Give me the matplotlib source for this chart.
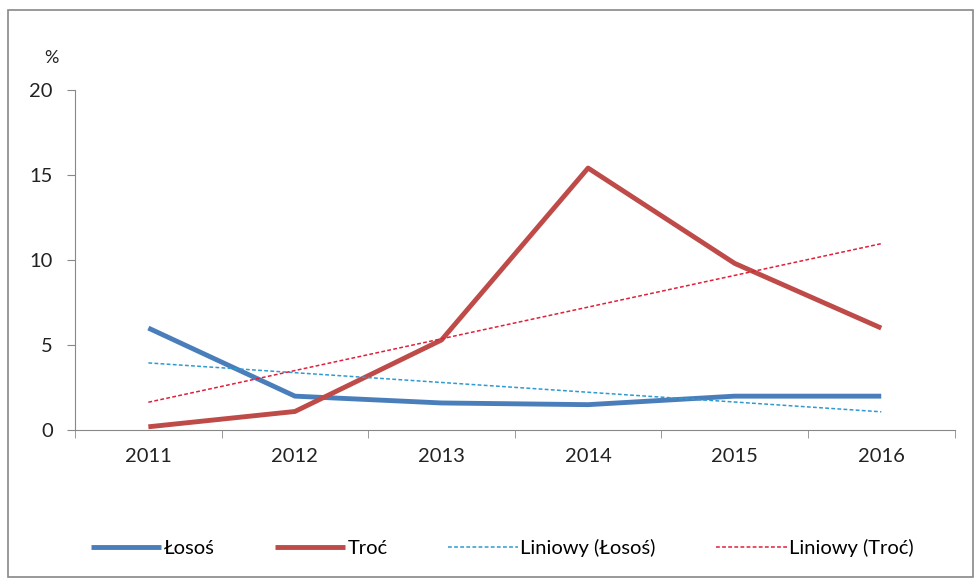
import matplotlib
matplotlib.use('Agg')
import matplotlib.pyplot as plt
import numpy as np
from matplotlib.patches import Rectangle

# data
years = ['2011', '2012', '2013', '2014', '2015', '2016']
losos = [6.0, 2.0, 1.6, 1.5, 2.0, 2.0]
troc = [0.2, 1.1, 5.3, 15.4, 9.8, 6.0]

plt.rcParams['font.family'] = ['Lato', 'DejaVu Sans']

fig = plt.figure(figsize=(9.75, 5.79), dpi=100)
ax = fig.add_axes([0.077, 0.257, 0.902, 0.588])

x = np.arange(len(years))
blue = '#4a7ebb'
red = '#be4b48'
ax.plot(x, losos, color=blue, lw=3.5, solid_capstyle='butt', label='Łosoś')
ax.plot(x, troc, color=red, lw=3.5, solid_capstyle='butt', label='Troć')

# linear trendlines (Excel "Liniowy")
for vals, c, name in [(losos, '#2e9ad0', 'Liniowy (Łosoś)'), (troc, '#e0203a', 'Liniowy (Troć)')]:
    k, b = np.polyfit(x, vals, 1)
    ax.plot(x, k * x + b, color=c, lw=1.1, ls=(0, (2.5, 1.5)), label=name)

ax.set_xlim(-0.5, len(years) - 0.5)
ax.set_ylim(0, 20)
ax.set_yticks([0, 5, 10, 15, 20])
ax.set_xticks(x)
ax.set_xticklabels(years)
ax.set_xticks(np.arange(-0.5, len(years)), minor=True)
ax.tick_params(axis='x', which='major', length=0, pad=13, labelsize=14.5, labelcolor='#222222')
ax.tick_params(axis='x', which='minor', length=6, color='#888888', direction='out')
ax.tick_params(axis='y', length=6, color='#888888', labelsize=14.5, pad=10, labelcolor='#222222')
for s in ['top', 'right']:
    ax.spines[s].set_visible(False)
ax.spines['left'].set_color('#888888')
ax.spines['bottom'].set_color('#888888')

fig.text(0.053, 0.9, '%', fontsize=13, ha='center', va='center', color='#222222')

fig.legend(loc='center', bbox_to_anchor=(0.515, 0.053), ncol=4, frameon=False,
           fontsize=14.5, handlelength=3.5, handletextpad=0.1, columnspacing=3.0)

# chart area border
fig.patches.append(Rectangle((0.008, 0.003), 0.99, 0.98, transform=fig.transFigure,
                             fill=False, edgecolor='#888888', lw=1.2))

fig.savefig('out.png', dpi=100)
